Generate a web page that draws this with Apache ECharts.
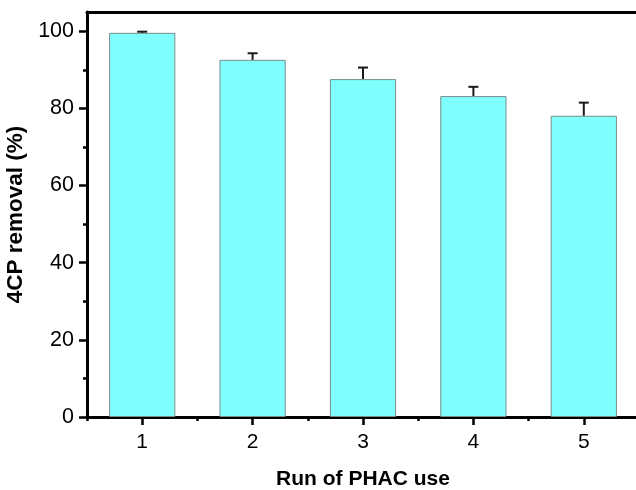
<!DOCTYPE html>
<html>
<head>
<meta charset="utf-8">
<script src="https://cdn.jsdelivr.net/npm/echarts@6/dist/echarts.min.js"></script>
<style>
  html, body { margin: 0; padding: 0; background: #fff; }
  #chart { width: 636px; height: 490px; }
</style>
</head>
<body>
<div id="chart"></div>
<script>
// Reuse runs of the PHAC adsorbent and the 4CP removal reached each time
const runs = ['1', '2', '3', '4', '5'];
const removal = [99.6, 92.6, 87.6, 83.2, 78.1];
const removalErr = [0.3, 1.7, 3.0, 2.4, 3.4];

// Y-axis tick positions
const yMajorTicks = [0, 20, 40, 60, 80, 100];
const yMinorTicks = [10, 30, 50, 70, 90];

const FONT = '"Liberation Sans", Arial, Helvetica, sans-serif';

const chart = echarts.init(document.getElementById('chart'), null, { renderer: 'canvas' });

const errorData = runs.map((r, i) => [i, removal[i], removalErr[i]]);

chart.setOption({
  animation: false,
  backgroundColor: '#ffffff',
  grid: {
    // the plot runs slightly past the right edge of the canvas
    left: 87, width: 552, top: 12, bottom: 73,
    outerBoundsMode: 'none',
    containLabel: false,
    show: false
  },
  xAxis: [
    {
      type: 'category',
      data: runs,
      boundaryGap: true,
      position: 'bottom',
      name: 'Run of PHAC use',
      nameLocation: 'middle',
      nameGap: 52,
      nameTextStyle: { fontFamily: FONT, fontSize: 21, fontWeight: 'bold', color: '#000' },
      axisLine: { show: true, lineStyle: { color: '#000', width: 3 } },
      axisTick: { show: true, alignWithLabel: true, inside: false, length: 8, lineStyle: { color: '#000', width: 2.5 } },
      axisLabel: { show: true, margin: 15, fontFamily: FONT, fontSize: 21, color: '#000' },
      splitLine: { show: false }
    },
    {
      // short ticks between the runs
      type: 'category',
      data: runs,
      boundaryGap: true,
      position: 'bottom',
      axisLine: { show: false },
      axisTick: { show: true, alignWithLabel: false, inside: false, length: 4, lineStyle: { color: '#000', width: 2.5 } },
      axisLabel: { show: false },
      splitLine: { show: false }
    },
    {
      // top frame line
      type: 'category',
      data: runs,
      boundaryGap: true,
      position: 'top',
      axisLine: { show: true, lineStyle: { color: '#000', width: 3 } },
      axisTick: { show: false },
      axisLabel: { show: false },
      splitLine: { show: false }
    }
  ],
  yAxis: [
    {
      type: 'value',
      min: 0,
      max: 105,
      name: '4CP removal (%)',
      nameLocation: 'middle',
      nameGap: 58,
      nameTextStyle: { fontFamily: FONT, fontSize: 22.5, fontWeight: 'bold', color: '#000' },
      axisLine: { show: true, lineStyle: { color: '#000', width: 3 } },
      axisTick: { show: true, inside: false, length: 8, customValues: yMajorTicks, lineStyle: { color: '#000', width: 2.5 } },
      axisLabel: { show: true, margin: 13, customValues: yMajorTicks, fontFamily: FONT, fontSize: 21.5, color: '#000' },
      splitLine: { show: false }
    },
    {
      // minor ticks
      type: 'value',
      min: 0,
      max: 105,
      position: 'left',
      axisLine: { show: false },
      axisTick: { show: true, inside: false, length: 4, customValues: yMinorTicks, lineStyle: { color: '#000', width: 2.5 } },
      axisLabel: { show: false },
      splitLine: { show: false }
    }
  ],
  series: [
    {
      type: 'bar',
      xAxisIndex: 0,
      yAxisIndex: 0,
      data: removal,
      barWidth: '60%',
      itemStyle: { color: '#80FFFF', borderColor: '#7a8c8c', borderWidth: 1 },
      z: 2
    },
    {
      type: 'custom',
      xAxisIndex: 0,
      yAxisIndex: 0,
      data: errorData,
      z: 3,
      renderItem: function (params, api) {
        const idx = api.value(0);
        const v = api.value(1);
        const e = api.value(2);
        const p0 = api.coord([idx, v]);
        const p1 = api.coord([idx, v + e]);
        const half = 5;
        const style = { stroke: '#1a1a1a', lineWidth: 2 };
        return {
          type: 'group',
          children: [
            { type: 'line', shape: { x1: p0[0], y1: p0[1], x2: p1[0], y2: p1[1] }, style: style },
            { type: 'line', shape: { x1: p1[0] - half, y1: p1[1], x2: p1[0] + half, y2: p1[1] }, style: style }
          ]
        };
      }
    }
  ]
});
</script>
</body>
</html>
